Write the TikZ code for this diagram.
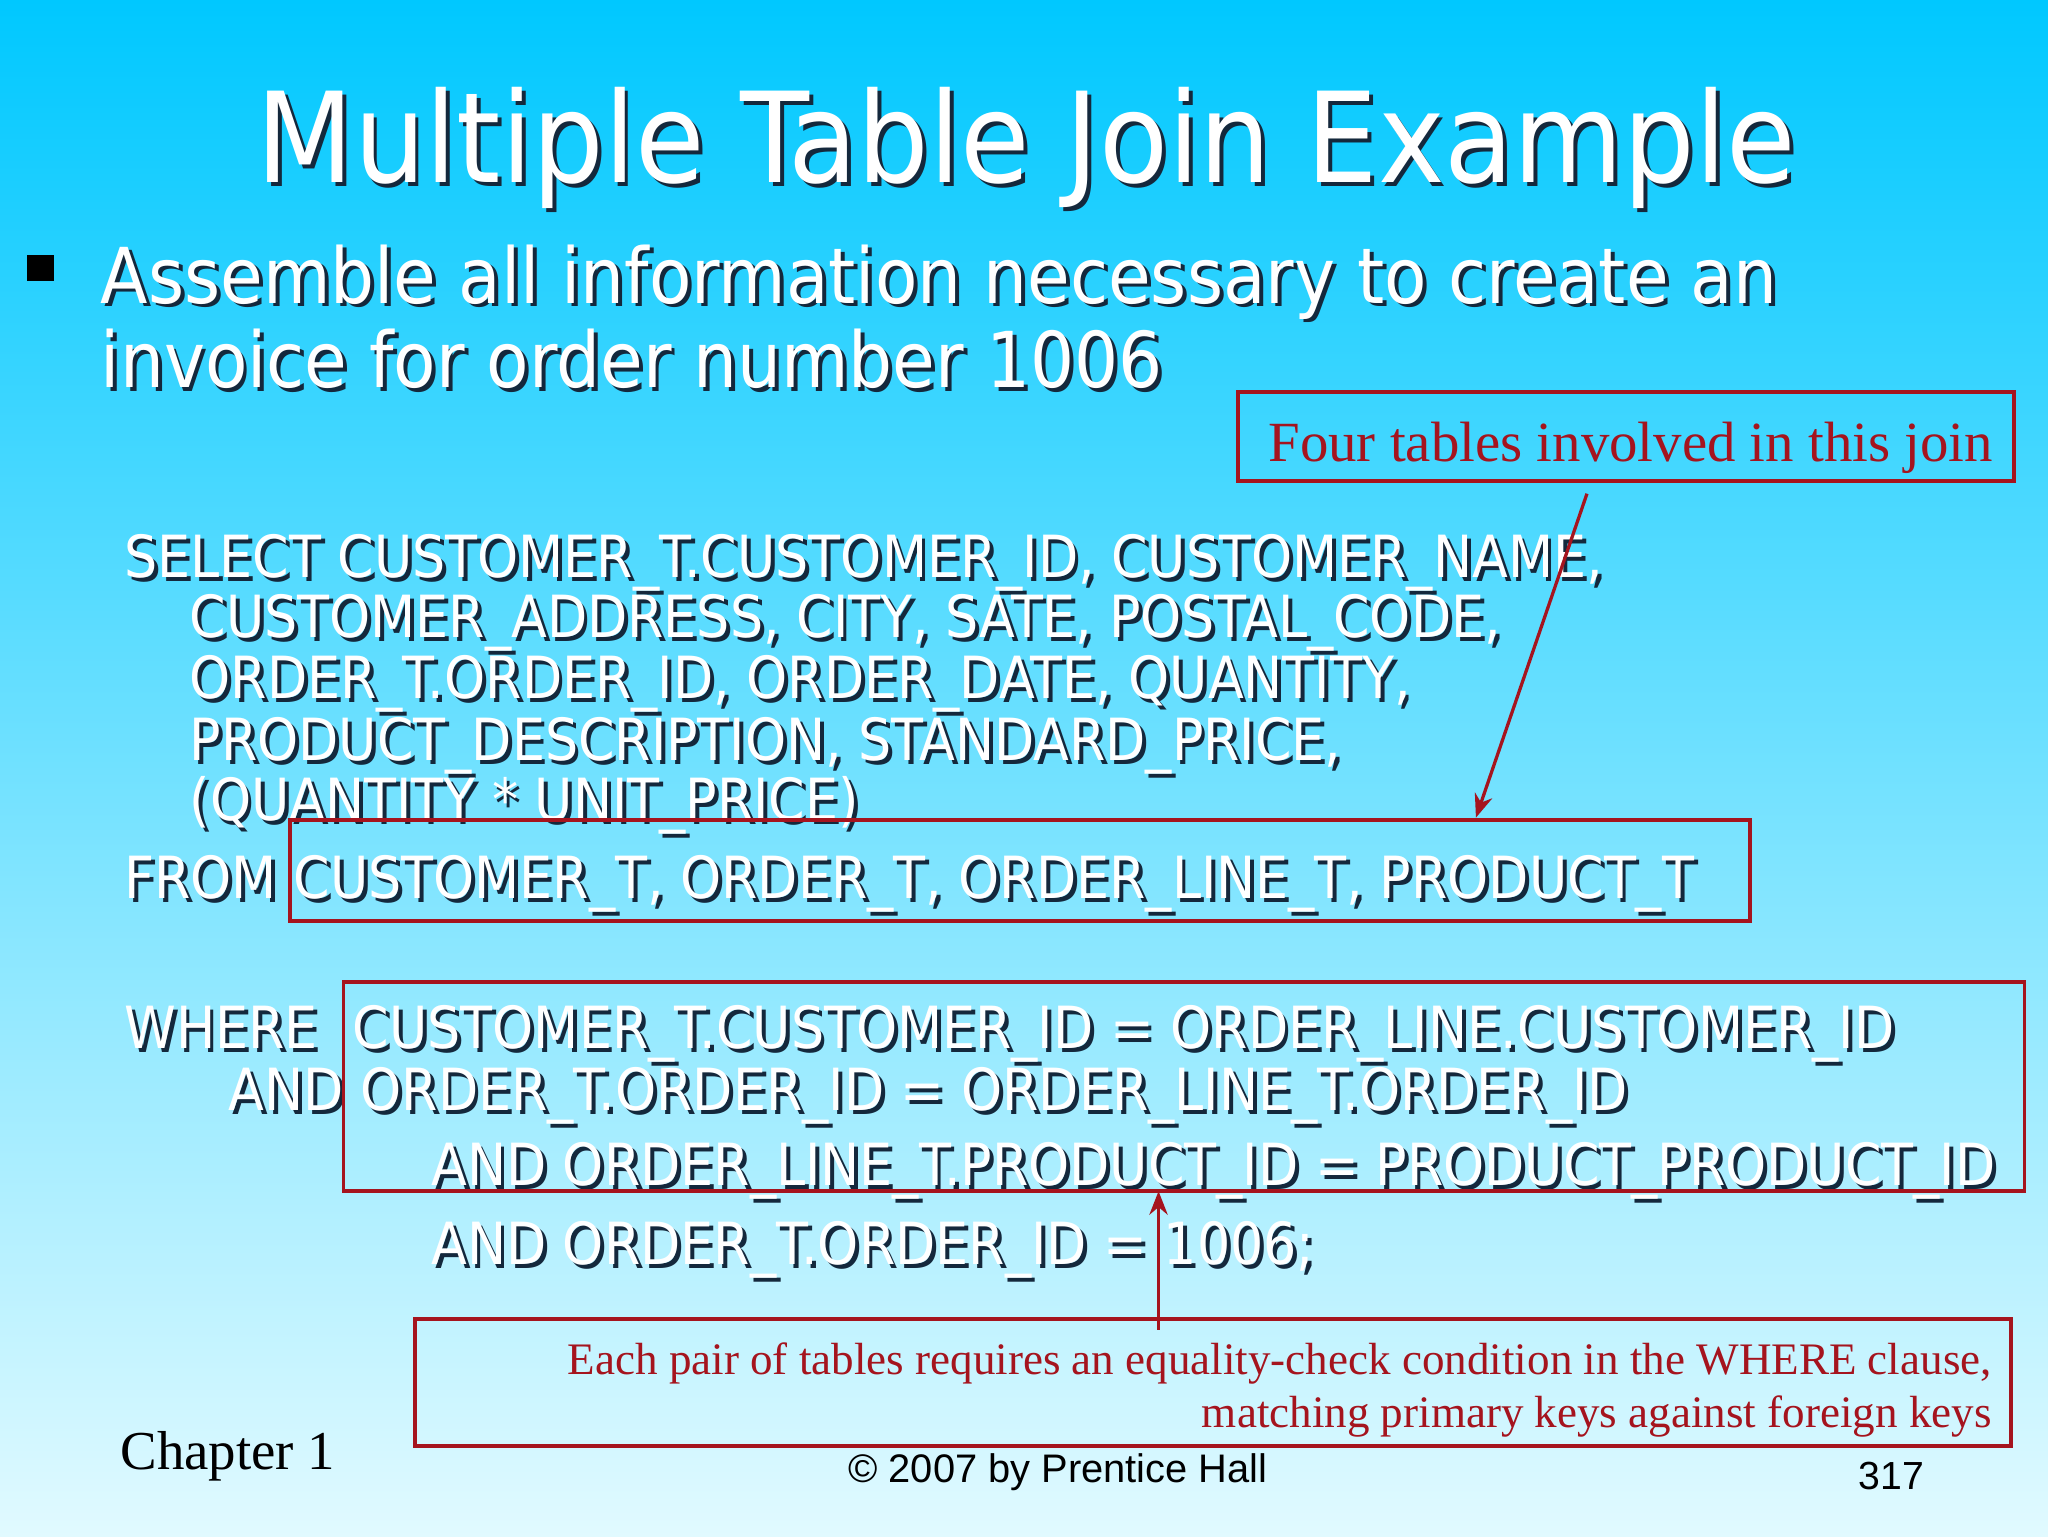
\documentclass[tikz,border=0pt]{standalone}
\usepackage{fontspec}
\setmainfont{Liberation Serif}
\newfontfamily\slidefont{DejaVu Sans Condensed}
\newfontfamily\arialf{Liberation Sans}
\definecolor{topc}{RGB}{0,200,255}
\definecolor{botc}{RGB}{225,250,255}
\definecolor{boxred}{RGB}{165,20,30}
\definecolor{shad}{RGB}{20,40,60}
\newcommand{\shtxt}[5]{%
  \node[anchor=base west,text=shad,inner sep=0] at (#1+3,#2+3) {#3#5};
  \node[anchor=base west,text=white,inner sep=0] (#4) at (#1,#2) {#3#5};}
\tikzset{redbox/.style={draw=boxred,line width=3pt},
  redarrow/.style={draw=boxred,line width=2.5pt,-{Stealth[length=18pt,width=14pt]}}}
\usetikzlibrary{arrows.meta}
\begin{document}
\begin{tikzpicture}[x=1pt,y=-1pt]
\shade[top color=topc,bottom color=botc] (0,0) rectangle (1568,1176);
\useasboundingbox (0,0) rectangle (1568,1176);
\def\tf{\slidefont\fontsize{96}{96}\selectfont}
\def\bf{\slidefont\fontsize{59}{59}\selectfont}
\def\sf{\slidefont\fontsize{44.5}{44.5}\selectfont}
\node[anchor=base,text=shad,inner sep=0] at (789,143) {\tf Multiple Table Join Example};
\node[anchor=base,text=white,inner sep=0] (title) at (786,140) {\tf Multiple Table Join Example};
\fill[black] (21,195) rectangle (41,215);
\shtxt{77}{232}{\bf}{b1}{Assemble all information necessary to create an}
\shtxt{77}{297}{\bf}{b2}{invoice for order number 1006}
\shtxt{95}{442}{\sf}{s1}{SELECT CUSTOMER\_T.CUSTOMER\_ID, CUSTOMER\_NAME,}
\shtxt{145}{488}{\sf}{s2}{CUSTOMER\_ADDRESS, CITY, SATE, POSTAL\_CODE,}
\shtxt{145}{535}{\sf}{s3}{ORDER\_T.ORDER\_ID, ORDER\_DATE, QUANTITY,}
\shtxt{145}{582}{\sf}{s4}{PRODUCT\_DESCRIPTION, STANDARD\_PRICE,}
\shtxt{145}{628}{\sf}{s5}{(QUANTITY * UNIT\_PRICE)}
\shtxt{95}{688}{\sf}{f1}{FROM CUSTOMER\_T, ORDER\_T, ORDER\_LINE\_T, PRODUCT\_T}
\shtxt{95}{803}{\sf}{w1}{WHERE}
\shtxt{270}{803}{\sf}{w2}{CUSTOMER\_T.CUSTOMER\_ID = ORDER\_LINE.CUSTOMER\_ID}
\shtxt{175}{850}{\sf}{w3}{AND ORDER\_T.ORDER\_ID = ORDER\_LINE\_T.ORDER\_ID}
\shtxt{330}{908}{\sf}{w4}{AND ORDER\_LINE\_T.PRODUCT\_ID = PRODUCT\_PRODUCT\_ID}
\shtxt{330}{968}{\sf}{w5}{AND ORDER\_T.ORDER\_ID = 1006;}
% boxes
\draw[redbox] (948,300) rectangle (1542,368);
\node[anchor=base east,text=boxred,inner sep=0,font=\fontsize{43.5}{43.5}\selectfont] (four) at (1526,353) {Four tables involved in this join};
\draw[redbox] (222,628) rectangle (1340,705);
\coordinate (fromtop) at (1130,626);
\draw[redbox] (263,752) rectangle (1550,912);
\coordinate (wherebot) at (887,912);
\draw[redbox] (318,1010) rectangle (1540,1107);
\node[anchor=base east,text=boxred,inner sep=0,font=\fontsize{34.5}{34.5}\selectfont] (e1) at (1525,1052) {Each pair of tables requires an equality-check condition in the WHERE clause,};
\node[anchor=base east,text=boxred,inner sep=0,font=\fontsize{34.5}{34.5}\selectfont] (e2) at (1525,1093) {matching primary keys against foreign keys};
\coordinate (fourbot) at (1215,378);
\coordinate (ebtop) at (887,1018);
\draw[redarrow] (fourbot) -- (fromtop);
\draw[redarrow] (ebtop) -- (wherebot);
\node[anchor=base west,inner sep=0,font=\fontsize{42}{42}\selectfont] (ch) at (92,1125) {Chapter 1};
\node[anchor=base,inner sep=0,font=\arialf\fontsize{30.5}{30.5}\selectfont] (cp) at (810,1135) {\textcopyright{} 2007 by Prentice Hall};
\node[anchor=base,inner sep=0,font=\arialf\fontsize{30}{30}\selectfont] (pg) at (1448,1140) {317};
\end{tikzpicture}
\end{document}
